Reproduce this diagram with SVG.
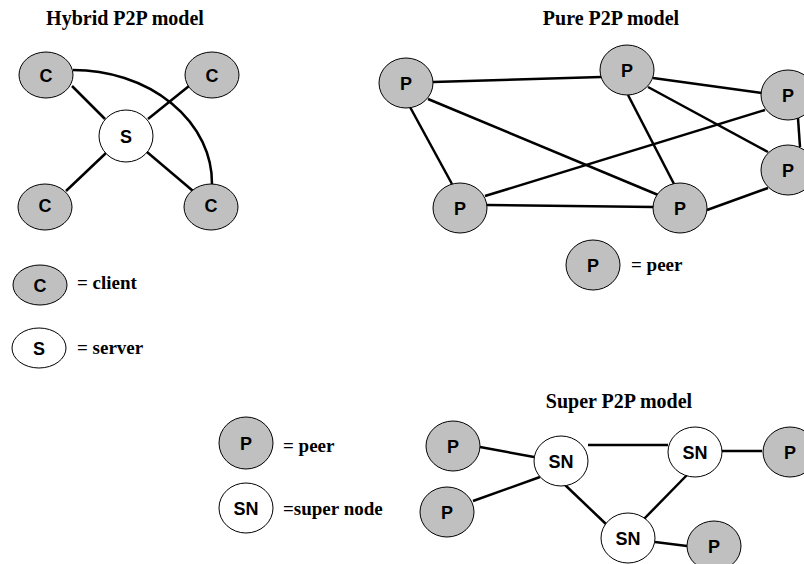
<svg xmlns="http://www.w3.org/2000/svg" width="804" height="564" viewBox="0 0 804 564">
<style>
.t{font-family:"Liberation Serif","Times New Roman",serif;font-weight:bold;font-size:20px;text-anchor:middle;fill:#000}
.lg{font-family:"Liberation Serif","Times New Roman",serif;font-weight:bold;font-size:19px;fill:#000}
.n{stroke:#000;stroke-width:1}
.g{fill:#c0c0c0}
.w{fill:#fff}
.lb{font-family:"Liberation Sans",Arial,sans-serif;font-weight:bold;font-size:18px;text-anchor:middle;fill:#000}
.e{stroke:#000;stroke-width:2.5;fill:none}
</style>
<rect width="804" height="564" fill="#fff"/>
<text class="t" x="125" y="25">Hybrid P2P model</text>
<text class="t" x="611" y="25">Pure P2P model</text>
<text class="t" x="619" y="408">Super P2P model</text>

<g id="connectors">
<!-- hybrid -->
<line class="e" x1="72" y1="86" x2="105" y2="119"/>
<line class="e" x1="189" y1="86" x2="148" y2="119"/>
<line class="e" x1="106" y1="153" x2="66" y2="191"/>
<line class="e" x1="147" y1="152" x2="193" y2="191"/>
<path class="e" d="M73,70 A139,113 0 0 1 212,184"/>
<!-- pure -->
<line class="e" x1="433" y1="82" x2="601" y2="77"/>
<line class="e" x1="410" y1="107" x2="452" y2="184"/>
<line class="e" x1="428" y1="99" x2="663" y2="197"/>
<line class="e" x1="653" y1="78" x2="762" y2="93"/>
<line class="e" x1="628" y1="95" x2="674" y2="184"/>
<line class="e" x1="648" y1="87" x2="768" y2="152"/>
<line class="e" x1="765" y1="110" x2="485" y2="196"/>
<line class="e" x1="798" y1="118" x2="800" y2="147"/>
<line class="e" x1="487" y1="205" x2="654" y2="207"/>
<line class="e" x1="707" y1="210" x2="768" y2="188"/>
<!-- super -->
<line class="e" x1="480" y1="447" x2="534" y2="457"/>
<line class="e" x1="473" y1="501" x2="540" y2="477"/>
<line class="e" x1="588" y1="445" x2="668" y2="445"/>
<line class="e" x1="563" y1="483" x2="607" y2="525"/>
<line class="e" x1="687" y1="475" x2="643" y2="520"/>
<line class="e" x1="721" y1="451" x2="762" y2="451"/>
<line class="e" x1="655" y1="542" x2="687" y2="546"/>
</g>

<!-- Hybrid nodes -->
<g id="h-c1"><ellipse class="n g" cx="46" cy="75" rx="27" ry="23"/><text class="lb" x="46" y="82">C</text></g>
<g id="h-c2"><ellipse class="n g" cx="212" cy="75" rx="27" ry="23"/><text class="lb" x="212" y="82">C</text></g>
<g id="h-s"><ellipse class="n w" cx="126" cy="136" rx="27" ry="26"/><text class="lb" x="126" y="142.5">S</text></g>
<g id="h-c3"><ellipse class="n g" cx="45" cy="207" rx="27" ry="23"/><text class="lb" x="45" y="211.5">C</text></g>
<g id="h-c4"><ellipse class="n g" cx="211" cy="207" rx="27" ry="23"/><text class="lb" x="211" y="211.5">C</text></g>
<g id="h-legend-c"><ellipse class="n g" cx="40" cy="285" rx="27" ry="20"/><text class="lb" x="40" y="291.5">C</text><text class="lg" x="77" y="289">= client</text></g>
<g id="h-legend-s"><ellipse class="n w" cx="39" cy="348" rx="27" ry="20"/><text class="lb" x="39" y="354.5">S</text><text class="lg" x="77" y="354">= server</text></g>

<!-- Pure nodes -->
<g id="p1"><ellipse class="n g" cx="406" cy="83" rx="27" ry="25"/><text class="lb" x="406" y="89.5">P</text></g>
<g id="p2"><ellipse class="n g" cx="627" cy="70" rx="27" ry="25"/><text class="lb" x="627" y="76.5">P</text></g>
<g id="p3"><ellipse class="n g" cx="788" cy="95" rx="27" ry="25"/><text class="lb" x="788" y="101.5">P</text></g>
<g id="p4"><ellipse class="n g" cx="788" cy="170" rx="27" ry="25"/><text class="lb" x="788" y="176.5">P</text></g>
<g id="p5"><ellipse class="n g" cx="460" cy="208" rx="27" ry="25"/><text class="lb" x="460" y="214.5">P</text></g>
<g id="p6"><ellipse class="n g" cx="680" cy="208" rx="27" ry="25"/><text class="lb" x="680" y="214.5">P</text></g>
<g id="p-legend"><ellipse class="n g" cx="593" cy="265" rx="27" ry="25"/><text class="lb" x="593" y="271.5">P</text><text class="lg" x="631" y="271">= peer</text></g>

<!-- Super nodes -->
<g id="s-pa"><ellipse class="n g" cx="453" cy="446" rx="27" ry="25"/><text class="lb" x="453" y="452.5">P</text></g>
<g id="s-pb"><ellipse class="n g" cx="447" cy="512" rx="27" ry="25"/><text class="lb" x="447" y="518.5">P</text></g>
<g id="s-sn1"><ellipse class="n w" cx="561" cy="461" rx="27" ry="25"/><text class="lb" x="561" y="467.5">SN</text></g>
<g id="s-sn2"><ellipse class="n w" cx="695" cy="452" rx="27" ry="25"/><text class="lb" x="695" y="458.5">SN</text></g>
<g id="s-pc"><ellipse class="n g" cx="790" cy="452" rx="27" ry="25"/><text class="lb" x="790" y="458.5">P</text></g>
<g id="s-sn3"><ellipse class="n w" cx="628" cy="538" rx="27" ry="25"/><text class="lb" x="628" y="544.5">SN</text></g>
<g id="s-pd"><ellipse class="n g" cx="714" cy="546" rx="27" ry="25"/><text class="lb" x="714" y="552.5">P</text></g>
<g id="s-legend-p"><ellipse class="n g" cx="246" cy="443" rx="27" ry="26"/><text class="lb" x="246" y="449.5">P</text><text class="lg" x="283" y="452">= peer</text></g>
<g id="s-legend-sn"><ellipse class="n w" cx="246" cy="508" rx="27" ry="25"/><text class="lb" x="246" y="514.5">SN</text><text class="lg" x="283" y="515">=super node</text></g>
</svg>
